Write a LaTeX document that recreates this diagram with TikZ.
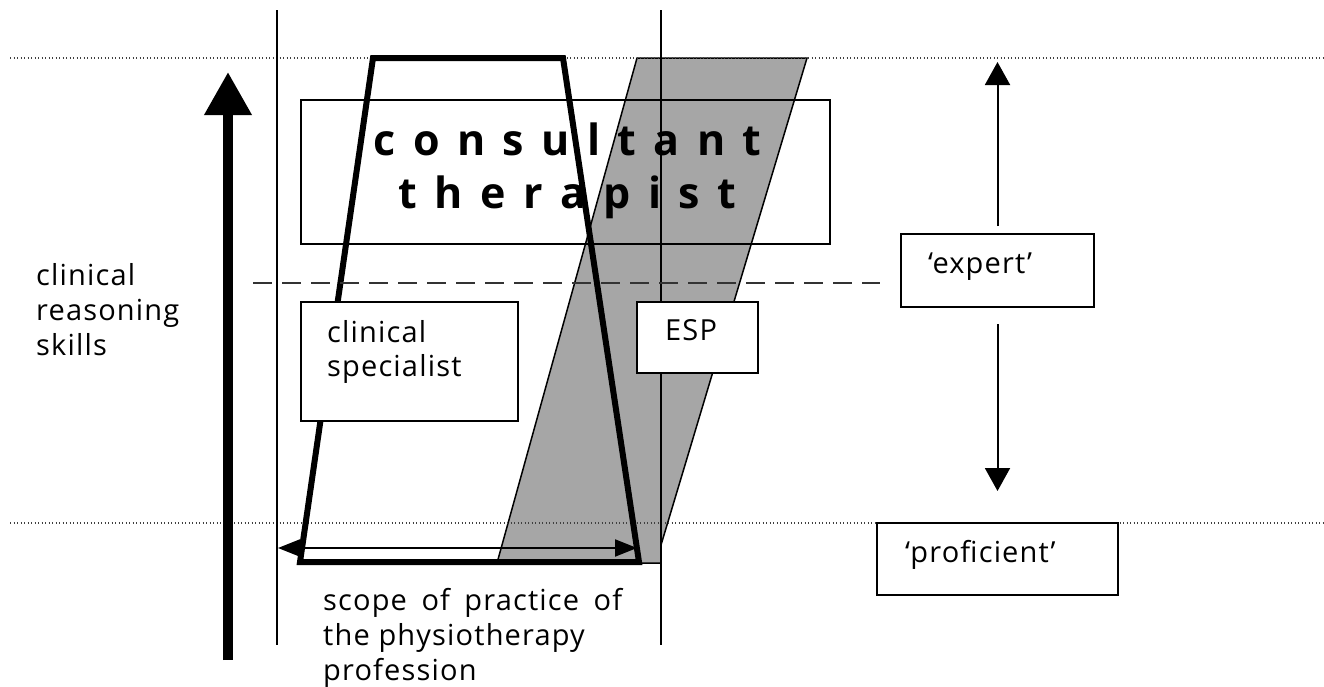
\documentclass[tikz,border=0pt]{standalone}
\usepackage{fontspec}
\setmainfont{Open Sans}
\newfontfamily\labelfont[LetterSpace=4]{Open Sans}
\usetikzlibrary{arrows.meta,calc}
\definecolor{espgray}{RGB}{166,166,166}
\newcommand{\widesp}{\spaceskip=17.4pt\relax}
\tikzset{
  thinline/.style={line width=2pt, draw=black},
  dotline/.style={line width=1.3pt, draw=black!75, dash pattern=on 1.3pt off 2.2pt},
  plainbox/.style={draw=black, line width=2pt, rectangle, inner sep=0pt},
  whitebox/.style={plainbox, fill=white},
  lbl/.style={font=\labelfont\fontsize{29}{35}\selectfont, inner sep=0pt, anchor=base west, align=left},
  title/.style={font=\bfseries\fontsize{43}{53}\selectfont, inner sep=0pt, anchor=base},
  bigarrow/.style={line width=10pt, -{Triangle[length=43pt,width=45pt]}},
  midarrow/.style={line width=2pt, -{Triangle[length=23pt,width=25pt]}},
  scopearrow/.style={line width=2pt, {Triangle[length=22pt,width=17pt]}-{Triangle[length=22pt,width=17pt]}},
  trap/.style={line width=6pt, line join=miter, draw=black},
  dashline/.style={line width=2pt, draw=black!80, dash pattern=on 19pt off 10pt}
}
\begin{document}
\begin{tikzpicture}[x=1pt,y=-1pt]
\useasboundingbox (0,0) rectangle (1324,686);
% gray ESP band
\filldraw[fill=espgray, draw=black, line width=1.5pt] (637,58) -- (807,58) -- (661,545) -- (661,563) -- (497,563) -- cycle;
% dotted levels
\draw[dotline] (10,58) -- (1324,58);
\draw[dotline] (10,523) -- (1324,523);
% vertical scope lines
\draw[thinline] (277,10) -- (277,645);
\draw[thinline] (661,10) -- (661,645);
% consultant box
\node[plainbox, minimum width=529pt, minimum height=144pt] (ct) at (565.5,172) {};
\node[title] (ct1) at (567.5,155) {\widesp c o n s u l t a n t};
\node[title] (ct2) at (567.5,208) {\widesp t h e r a p i s t};
% trapezoid
\draw[trap] (373,58) -- (563,58) -- (639,562) -- (300,562) -- cycle;
% dashed line
\draw[dashline] (253,283) -- (880,283);
% boxes
\node[whitebox, minimum width=217pt, minimum height=119pt] (cs) at (409.5,361.5) {};
\node[lbl, font=\labelfont\fontsize{29}{33.5}\selectfont] (cstext) at (327,376) {clinical\\specialist};
\node[whitebox, minimum width=121pt, minimum height=71pt] (esp) at (697.5,337.5) {};
\node[lbl] (esptext) at (665,340) {ESP};
\node[whitebox, minimum width=193pt, minimum height=73pt] (expert) at (997.5,270.5) {};
\node[lbl] (experttext) at (928,273) {‘expert’};
\node[whitebox, minimum width=241pt, minimum height=72pt] (prof) at (997.5,559) {};
\node[lbl] (proftext) at (905,562) {‘proficient’};
% expert arrows
\coordinate (exptop) at (997.5,62);
\draw[midarrow, shorten <=7pt] (expert.north) -- (exptop);
\draw[midarrow, shorten <=16pt, shorten >=31pt] (expert.south) -- (prof.north);
% big arrow
\coordinate (bigfoot) at (228,660);
\coordinate (bigtip) at (228,72);
\draw[bigarrow] (bigfoot) -- (bigtip);
\node[lbl] (crs) at (36,355) {clinical\\reasoning\\skills};
% scope arrow
\coordinate (scopeL) at (278,548);
\coordinate (scopeR) at (637,548);
\draw[scopearrow] (scopeL) -- (scopeR);
\node[lbl] (scope) at (323,680) {\makebox[299pt][s]{scope of practice of}\\the physiotherapy\\profession};
\end{tikzpicture}
\end{document}
